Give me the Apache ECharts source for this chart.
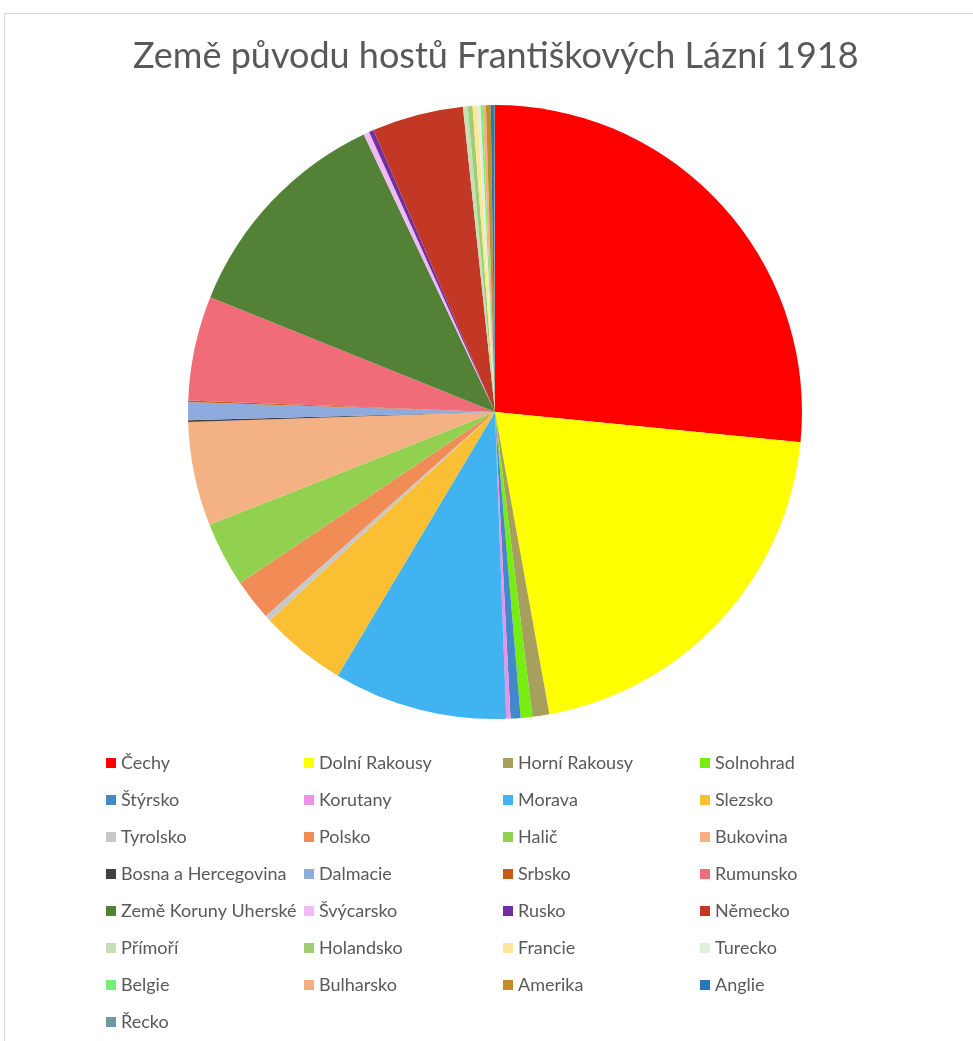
<!DOCTYPE html>
<html>
<head>
<meta charset="utf-8">
<script src="https://cdn.jsdelivr.net/npm/echarts@6/dist/echarts.min.js"></script>
<style>
  html, body { margin: 0; padding: 0; background: #fff; overflow: hidden; }
  #chart { width: 973px; height: 1041px; }
  #frame { position: absolute; left: 4px; top: 13px; width: 1000px; height: 1100px;
           border: 1px solid #d9d9d9; pointer-events: none; }
</style>
</head>
<body>
<div id="chart"></div>
<div id="frame"></div>
<script>
// zeme puvodu hostu (odhad z obrazku)
const zeme = ['Čechy', 'Dolní Rakousy', 'Horní Rakousy', 'Solnohrad',
  'Štýrsko', 'Korutany', 'Morava', 'Slezsko',
  'Tyrolsko', 'Polsko', 'Halič', 'Bukovina',
  'Bosna a Hercegovina', 'Dalmacie', 'Srbsko', 'Rumunsko',
  'Země Koruny Uherské', 'Švýcarsko', 'Rusko', 'Německo',
  'Přímoří', 'Holandsko', 'Francie', 'Turecko',
  'Belgie', 'Bulharsko', 'Amerika', 'Anglie',
  'Řecko'];
const hoste = [956, 741, 32, 22,
  19, 8, 329, 164,
  11, 78, 123, 197,
  3, 34, 3, 198,
  427, 11, 9, 173,
  9, 9, 9, 6,
  4, 6, 9, 6,
  2];
const barvy = ['#FF0000', '#FFFF00', '#A6A05C', '#77EE11',
  '#4488CC', '#EE90E8', '#41B3F0', '#FBBF33',
  '#C8C8C8', '#F28C56', '#92D050', '#F4B183',
  '#404040', '#8FAADC', '#C55A11', '#F06C78',
  '#538135', '#F2BBF7', '#7030A0', '#C33825',
  '#C5E0B4', '#A0CC74', '#FFE699', '#E2EFDA',
  '#75EF78', '#F4AE84', '#BF9027', '#2E75B6',
  '#6F9AA0'];

const chart = echarts.init(document.getElementById('chart'));

const data = zeme.map((n, i) => ({ name: n, value: hoste[i] }));

// legenda ve 4 sloupcich
const sloupce = [106, 304, 503, 700];
const legendy = sloupce.map((x, c) => ({
  orient: 'vertical',
  left: x,
  top: 753,
  padding: 0,
  itemGap: 17,
  itemWidth: 10,
  itemHeight: 10,
  icon: 'rect',
  selectedMode: false,
  data: zeme.filter((_, i) => i % 4 === c),
  textStyle: { fontFamily: 'Lato', fontSize: 18, color: '#595959', lineHeight: 20 }
}));

const option = {
  animation: false,
  color: barvy,
  title: {
    text: 'Země původu hostů Františkových Lázní 1918',
    left: 133,
    top: 38,
    padding: 0,
    textStyle: { fontFamily: 'Lato', fontSize: 36, fontWeight: 'normal', color: '#595959' }
  },
  legend: legendy,
  series: [{
    type: 'pie',
    center: [495, 412],
    radius: 307,
    startAngle: 90,
    clockwise: true,
    label: { show: false },
    labelLine: { show: false },
    itemStyle: { borderWidth: 0 },
    emphasis: { disabled: true },
    data: data
  }]
};

chart.setOption(option);
</script>
</body>
</html>
